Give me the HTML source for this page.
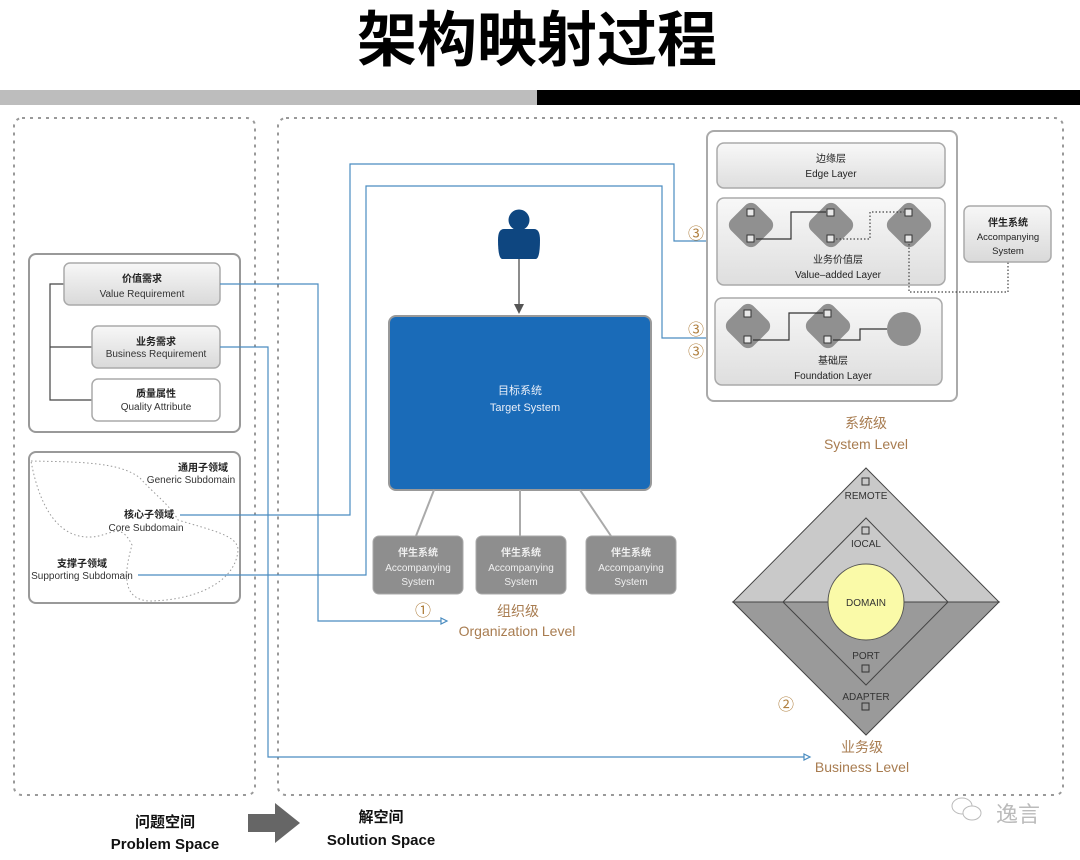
<!DOCTYPE html>
<html><head><meta charset="utf-8"><style>
html,body{margin:0;padding:0;background:#fff;}
svg{display:block;}
text{font-family:"Liberation Sans","Noto Sans CJK SC",sans-serif;}
</style></head><body>
<svg width="1080" height="860" viewBox="0 0 1080 860" xmlns="http://www.w3.org/2000/svg">
<defs>
<linearGradient id="g1" x1="0" y1="0" x2="0" y2="1"><stop offset="0" stop-color="#f7f7f7"/><stop offset="1" stop-color="#d9d9d9"/></linearGradient>
<linearGradient id="g2" x1="0" y1="0" x2="0" y2="1"><stop offset="0" stop-color="#f8f8f8"/><stop offset="1" stop-color="#dedede"/></linearGradient>
</defs>
<!-- title -->
<text x="537" y="61" text-anchor="middle" font-size="60" font-weight="bold" fill="#000" style="font-family:'Noto Sans CJK SC',sans-serif">架构映射过程</text>
<rect x="0" y="90" width="537" height="15" fill="#bdbdbd"/>
<rect x="537" y="90" width="543" height="15" fill="#000"/>
<!-- dashed spaces -->
<rect x="14" y="118" width="241" height="677" rx="8" fill="none" stroke="#999" stroke-width="2" stroke-dasharray="3 5"/>
<rect x="278" y="118" width="785" height="677" rx="8" fill="none" stroke="#999" stroke-width="2" stroke-dasharray="3 5"/>

<!-- requirements box -->
<rect x="29" y="254" width="211" height="178" rx="7" fill="#fff" stroke="#999" stroke-width="2"/>
<path d="M64 284 H50 V400 H92 M50 347 H92" fill="none" stroke="#444" stroke-width="1.2"/>
<rect x="64" y="263" width="156" height="42" rx="6" fill="url(#g1)" stroke="#aaa" stroke-width="1.5"/>
<text x="142" y="282" text-anchor="middle" font-size="10" font-weight="bold" fill="#222">价值需求</text>
<text x="142" y="297" text-anchor="middle" font-size="10" fill="#333">Value Requirement</text>
<rect x="92" y="326" width="128" height="42" rx="6" fill="url(#g1)" stroke="#aaa" stroke-width="1.5"/>
<text x="156" y="345" text-anchor="middle" font-size="10" font-weight="bold" fill="#222">业务需求</text>
<text x="156" y="357" text-anchor="middle" font-size="10" fill="#333">Business Requirement</text>
<rect x="92" y="379" width="128" height="42" rx="6" fill="#fff" stroke="#aaa" stroke-width="1.5"/>
<text x="156" y="397" text-anchor="middle" font-size="10" font-weight="bold" fill="#222">质量属性</text>
<text x="156" y="410" text-anchor="middle" font-size="10" fill="#333">Quality Attribute</text>

<!-- subdomain box -->
<rect x="29" y="452" width="211" height="151" rx="7" fill="#fff" stroke="#999" stroke-width="2"/>
<path d="M31 461 C80 462 120 462 140 478 C155 495 170 505 178 520 C210 530 238 535 238 550 C236 580 200 600 150 601 C120 600 125 570 132 545 C120 520 110 537 90 537 C60 538 40 510 31 461 Z" fill="none" stroke="#999" stroke-width="1" stroke-dasharray="1.5 2.5"/>
<text x="203" y="471" text-anchor="middle" font-size="10" font-weight="bold" fill="#222">通用子领域</text>
<text x="191" y="483" text-anchor="middle" font-size="10" fill="#333">Generic Subdomain</text>
<text x="149" y="518" text-anchor="middle" font-size="10" font-weight="bold" fill="#222">核心子领域</text>
<text x="146" y="531" text-anchor="middle" font-size="10" fill="#333">Core Subdomain</text>
<text x="82" y="567" text-anchor="middle" font-size="10" font-weight="bold" fill="#222">支撑子领域</text>
<text x="82" y="579" text-anchor="middle" font-size="10" fill="#333">Supporting Subdomain</text>

<!-- blue connectors -->
<g fill="none" stroke="#4a8cc0" stroke-width="1.2">
<path d="M220 284 H318 V621 H441"/>
<path d="M220 347 H268 V757 H804"/>
<path d="M180 515 H350 V164 H674 V241 H710"/>
<path d="M138 575 H366 V186 H662 V338 H710"/>
</g>
<g fill="#fff" stroke="#4a8cc0" stroke-width="1.2">
<path d="M441 618 L447 621 L441 624 Z"/>
<path d="M804 754 L810 757 L804 760 Z"/>
<path d="M710 238 L716 241 L710 244 Z"/>
<path d="M710 335 L716 338 L710 341 Z"/>
</g>

<!-- person -->
<circle cx="519" cy="220" r="10.5" fill="#0e4680"/>
<path d="M504 229 H534 Q540 229 540 240 Q540 258 536 259 H502 Q498 258 498 240 Q498 229 504 229 Z" fill="#0e4680"/>
<line x1="519" y1="259" x2="519" y2="305" stroke="#666" stroke-width="1.5"/>
<path d="M514 304 L524 304 L519 314 Z" fill="#555"/>

<!-- target system -->
<rect x="389" y="316" width="262" height="174" rx="7" fill="#1a6bb8" stroke="#999" stroke-width="2"/>
<text x="520" y="394" text-anchor="middle" font-size="11" fill="#e8eef8">目标系统</text>
<text x="525" y="411" text-anchor="middle" font-size="11" fill="#e8eef8">Target System</text>
<g stroke="#aaa" stroke-width="2"><line x1="434" y1="490" x2="416" y2="536"/><line x1="520" y1="490" x2="520" y2="536"/><line x1="580" y1="490" x2="611" y2="536"/></g>
<g font-size="10" fill="#f0f0f0" text-anchor="middle">
<rect x="373" y="536" width="90" height="58" rx="6" fill="#8e8e8e" stroke="#aaa"/>
<text x="418" y="556" font-weight="bold">伴生系统</text><text x="418" y="571">Accompanying</text><text x="418" y="585">System</text>
<rect x="476" y="536" width="90" height="58" rx="6" fill="#8e8e8e" stroke="#aaa"/>
<text x="521" y="556" font-weight="bold">伴生系统</text><text x="521" y="571">Accompanying</text><text x="521" y="585">System</text>
<rect x="586" y="536" width="90" height="58" rx="6" fill="#8e8e8e" stroke="#aaa"/>
<text x="631" y="556" font-weight="bold">伴生系统</text><text x="631" y="571">Accompanying</text><text x="631" y="585">System</text>
</g>
<text x="423" y="616" text-anchor="middle" font-size="16" fill="#b08040" style="font-family:'Noto Sans CJK SC',sans-serif">①</text>
<text x="518" y="616" text-anchor="middle" font-size="14" fill="#a87c50">组织级</text>
<text x="517" y="636" text-anchor="middle" font-size="14" fill="#a87c50">Organization Level</text>

<!-- system level -->
<rect x="707" y="131" width="250" height="270" rx="7" fill="#fff" stroke="#aaa" stroke-width="2"/>
<rect x="717" y="143" width="228" height="45" rx="7" fill="url(#g2)" stroke="#aaa" stroke-width="1.5"/>
<text x="831" y="162" text-anchor="middle" font-size="10" fill="#222">边缘层</text>
<text x="831" y="177" text-anchor="middle" font-size="10" fill="#222">Edge Layer</text>
<rect x="717" y="198" width="228" height="87" rx="7" fill="url(#g2)" stroke="#aaa" stroke-width="1.5"/>
<rect x="715" y="298" width="227" height="87" rx="7" fill="url(#g2)" stroke="#aaa" stroke-width="1.5"/>
<text x="838" y="263" text-anchor="middle" font-size="10" fill="#222">业务价值层</text>
<text x="838" y="278" text-anchor="middle" font-size="10" fill="#222">Value–added Layer</text>
<text x="833" y="364" text-anchor="middle" font-size="10" fill="#222">基础层</text>
<text x="833" y="379" text-anchor="middle" font-size="10" fill="#222">Foundation Layer</text>
<g fill="#909090">
<rect x="733" y="207" width="36" height="36" rx="8" transform="rotate(45 751 225)"/>
<rect x="813" y="207" width="36" height="36" rx="8" transform="rotate(45 831 225)"/>
<rect x="891" y="207" width="36" height="36" rx="8" transform="rotate(45 909 225)"/>
<rect x="730" y="308" width="36" height="36" rx="8" transform="rotate(45 748 326)"/>
<rect x="810" y="308" width="36" height="36" rx="8" transform="rotate(45 828 326)"/>
<circle cx="904" cy="329" r="17"/>
</g>
<g fill="none" stroke="#333" stroke-width="1.2">
<path d="M756 239 H791 V212 H826"/>
<path d="M753 340 H789 V313 H823"/>
<path d="M833 340 H860 V329 H887"/>
</g>
<g fill="none" stroke="#444" stroke-width="1.2" stroke-dasharray="1.5 2">
<path d="M836 239 H870 V212 H904"/>
<path d="M909 244 V292 H1008 V262"/>
</g>
<g fill="#e8e8e8" stroke="#333" stroke-width="1">
<rect x="747" y="209" width="7" height="7"/><rect x="747" y="235" width="7" height="7"/>
<rect x="827" y="209" width="7" height="7"/><rect x="827" y="235" width="7" height="7"/>
<rect x="905" y="209" width="7" height="7"/><rect x="905" y="235" width="7" height="7"/>
<rect x="744" y="310" width="7" height="7"/><rect x="744" y="336" width="7" height="7"/>
<rect x="824" y="310" width="7" height="7"/><rect x="824" y="336" width="7" height="7"/>
</g>
<rect x="964" y="206" width="87" height="56" rx="6" fill="url(#g1)" stroke="#aaa" stroke-width="1.5"/>
<text x="1008" y="226" text-anchor="middle" font-size="10" font-weight="bold" fill="#222">伴生系统</text>
<text x="1008" y="240" text-anchor="middle" font-size="9.5" fill="#222">Accompanying</text>
<text x="1008" y="254" text-anchor="middle" font-size="9.5" fill="#222">System</text>
<g font-size="16" fill="#b08040" text-anchor="middle" style="font-family:'Noto Sans CJK SC',sans-serif">
<text x="696" y="239">③</text><text x="696" y="335">③</text><text x="696" y="357">③</text>
</g>
<text x="866" y="428" text-anchor="middle" font-size="14" fill="#a87c50">系统级</text>
<text x="866" y="449" text-anchor="middle" font-size="14" fill="#a87c50">System Level</text>

<!-- hexagonal diamond -->
<path d="M733 602 L866 468 L999 602 Z" fill="#c9c9c9" stroke="#444" stroke-width="1"/>
<path d="M733 602 L866 735 L999 602 Z" fill="#9a9a9a" stroke="#444" stroke-width="1"/>
<path d="M783 602 L866 518 L948 602 Z" fill="#c9c9c9" stroke="#444" stroke-width="1"/>
<path d="M783 602 L866 685 L948 602 Z" fill="#9a9a9a" stroke="#444" stroke-width="1"/>
<circle cx="866" cy="602" r="38" fill="#fafaa8" stroke="#555" stroke-width="1"/>
<g fill="none" stroke="#333" stroke-width="1">
<rect x="862" y="478" width="7" height="7"/><rect x="862" y="527" width="7" height="7"/>
<rect x="862" y="665" width="7" height="7"/><rect x="862" y="703" width="7" height="7"/>
</g>
<g font-size="10" fill="#333" text-anchor="middle">
<text x="866" y="499">REMOTE</text><text x="866" y="547">IOCAL</text>
<text x="866" y="606">DOMAIN</text><text x="866" y="659">PORT</text><text x="866" y="700">ADAPTER</text>
</g>
<text x="786" y="710" text-anchor="middle" font-size="16" fill="#b08040" style="font-family:'Noto Sans CJK SC',sans-serif">②</text>
<text x="862" y="752" text-anchor="middle" font-size="14" fill="#a87c50">业务级</text>
<text x="862" y="772" text-anchor="middle" font-size="14" fill="#a87c50">Business Level</text>

<!-- bottom -->
<text x="165" y="827" text-anchor="middle" font-size="15" font-weight="bold" fill="#111">问题空间</text>
<text x="165" y="849" text-anchor="middle" font-size="15" font-weight="bold" fill="#111">Problem Space</text>
<path d="M248 814 H275 V803 L300 823 L275 843 V832 H248 Z" fill="#666"/>
<text x="381" y="822" text-anchor="middle" font-size="15" font-weight="bold" fill="#111">解空间</text>
<text x="381" y="845" text-anchor="middle" font-size="15" font-weight="bold" fill="#111">Solution Space</text>
<g fill="#fff" stroke="#bbb" stroke-width="1">
<ellipse cx="962" cy="806" rx="10" ry="8"/><ellipse cx="972" cy="813" rx="9" ry="7"/>
</g>
<text x="1018" y="822" text-anchor="middle" font-size="22" fill="#bbb">逸言</text>
</svg>
</body></html>
